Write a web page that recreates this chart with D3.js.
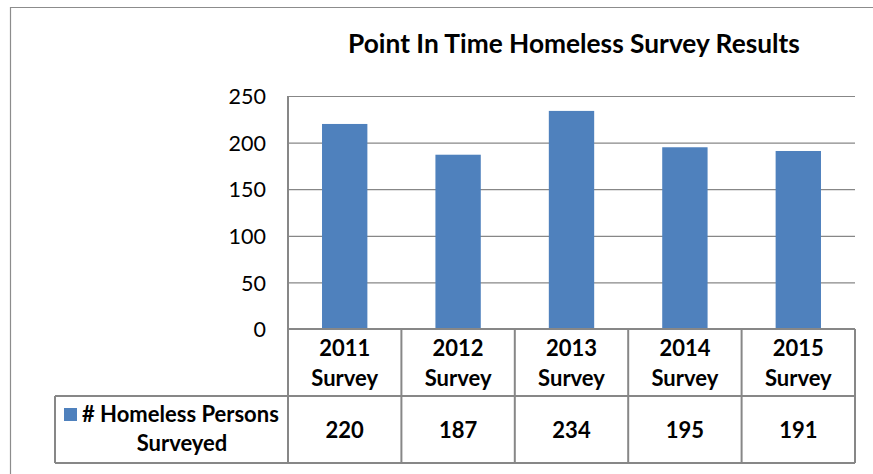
<!DOCTYPE html>
<html><head><meta charset="utf-8">
<script src="https://cdn.jsdelivr.net/npm/d3@7"></script>
<style>html,body{margin:0;padding:0;background:#fff;}svg{display:block;font-family:Lato,"Open Sans",sans-serif;}</style>
</head><body>
<svg id="c" width="873" height="474"></svg>
<script>
const categories = ["2011 Survey","2012 Survey","2013 Survey","2014 Survey","2015 Survey"];
const values = [220, 187, 234, 195, 191];
const yTicks = [0, 50, 100, 150, 200, 250];
const seriesName = "# Homeless Persons Surveyed";
const title = "Point In Time Homeless Survey Results";

const svg = d3.select("#c");
const W = 873, H = 474;
const plot = {left: 288, right: 855, top: 96, bottom: 329};
const rowBottom1 = 396, rowBottom2 = 463, legendLeft = 55;
const gridCol = "#878787", barCol = "#4F81BD";

// frame
svg.append("path").attr("d", `M10.5,${H} V7.5 H${W}`).attr("fill","none").attr("stroke","#8c8c8c").attr("stroke-width",1.2);

const x = d3.scaleBand().domain(categories).range([plot.left, plot.right]).paddingInner(0.6).paddingOuter(0.3);
const xb = d3.scaleBand().domain(categories).range([plot.left, plot.right]);
const y = d3.scaleLinear().domain([0, 250]).range([plot.bottom, plot.top]);

// gridlines
const yAxis = d3.axisLeft(y).tickValues(yTicks).tickSize(-(plot.right - plot.left)).tickPadding(22);
const ga = svg.append("g").attr("transform", `translate(${plot.left},0)`).call(yAxis);
ga.attr("font-family", null).attr("font-size", null);
ga.select(".domain").remove();
ga.selectAll(".tick line").attr("stroke", gridCol).attr("stroke-width", 1.2);
ga.selectAll(".tick text").attr("font-size", 21.5).attr("fill", "#000").attr("dy", "0.36em");

// bars
svg.append("g").selectAll("rect").data(values).join("rect")
  .attr("x", (d,i) => x(categories[i]))
  .attr("width", x.bandwidth())
  .attr("y", d => y(d))
  .attr("height", d => y(0) - y(d))
  .attr("fill", barCol);

// table lines
const tl = svg.append("g").attr("stroke", gridCol).attr("stroke-width", 2).attr("fill","none");
tl.append("line").attr("x1", plot.left).attr("x2", plot.left).attr("y1", plot.top).attr("y2", rowBottom2);
tl.append("line").attr("x1", plot.left).attr("x2", plot.right).attr("y1", y(0)).attr("y2", y(0));
tl.append("line").attr("x1", legendLeft).attr("x2", plot.right).attr("y1", rowBottom1).attr("y2", rowBottom1);
tl.append("line").attr("x1", legendLeft).attr("x2", plot.right).attr("y1", rowBottom2).attr("y2", rowBottom2);
tl.append("line").attr("x1", legendLeft).attr("x2", legendLeft).attr("y1", rowBottom1).attr("y2", rowBottom2);
categories.forEach((c,i) => {
  const xr = xb(c) + xb.bandwidth();
  tl.append("line").attr("x1", xr).attr("x2", xr).attr("y1", y(0)).attr("y2", rowBottom2);
});

// category labels
const cg = svg.append("g").attr("font-weight", "bold").attr("font-size", 22).attr("text-anchor", "middle");
categories.forEach((c) => {
  const parts = c.split(" ");
  const cx = xb(c) + xb.bandwidth()/2;
  cg.append("text").attr("x", cx).attr("y", 356).text(parts[0]);
  cg.append("text").attr("x", cx).attr("y", 386).text(parts[1]);
});
// values
values.forEach((v,i) => {
  const cx = xb(categories[i]) + xb.bandwidth()/2;
  cg.append("text").attr("x", cx).attr("y", 438).text(v);
});

// legend cell
svg.append("rect").attr("x", 64).attr("y", 408).attr("width", 13).attr("height", 13).attr("fill", barCol);
const lg = svg.append("g").attr("font-weight","bold").attr("font-size", 22);
const l1 = lg.append("text").attr("x", 82).attr("y", 422).text(seriesName.split(" ").slice(0,3).join(" "));
const w1 = l1.node().getComputedTextLength();
if (w1 > 197) l1.attr("font-size", 22 * 197 / w1);
lg.append("text").attr("x", 182).attr("y", 451).attr("text-anchor","middle").text(seriesName.split(" ").slice(3).join(" "));

// title
const t = svg.append("text").attr("x", 574).attr("y", 53).attr("text-anchor","middle")
  .attr("font-weight","bold").attr("font-size", 24).text(title);
const tw = t.node().getComputedTextLength();
t.attr("font-size", 24 * 452 / tw);
</script>
</body></html>
